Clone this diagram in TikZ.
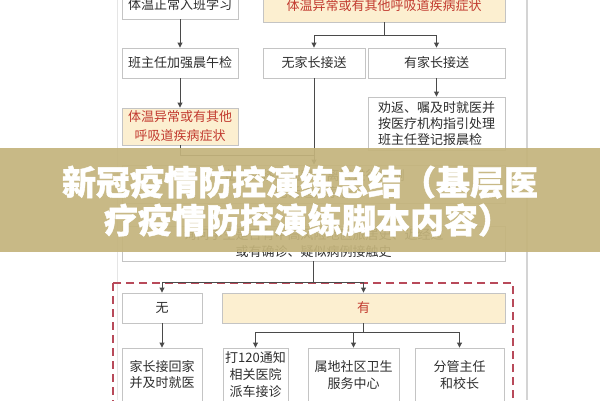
\documentclass[tikz,border=0pt]{standalone}
\usepackage{fontspec}
\setmainfont{Noto Sans CJK SC}
\newfontfamily\titlefont[BoldFeatures={FakeBold=1.2}]{Noto Sans CJK SC}
\usetikzlibrary{arrows.meta}
\definecolor{boxgray}{HTML}{C4C4C4}
\definecolor{lineg}{HTML}{4A4A4A}
\definecolor{txt}{HTML}{2E2E2E}
\definecolor{rtxt}{HTML}{C23B30}
\definecolor{yfill}{HTML}{FCEFD0}
\definecolor{dashred}{HTML}{B84A5A}
\definecolor{bannerc}{HTML}{C4B47C}
\definecolor{pageline}{HTML}{D4D4D4}
\tikzset{
  box/.style={draw=boxgray, fill=white, line width=0.9pt, text=txt, inner sep=0pt,
    font=\fontsize{13}{17}\selectfont, align=center},
  ybox/.style={box, fill=yfill, text=rtxt},
  conn/.style={draw=lineg, line width=0.9pt},
  arr/.style={conn, -{Triangle[length=5pt,width=5pt]}},
}
\begin{document}
\begin{tikzpicture}[x=1pt,y=-1pt]
\useasboundingbox (0,0) rectangle (600,400);
\clip (0,0) rectangle (600,400);
\fill[white] (0,0) rectangle (600,400);
\draw[pageline!60, line width=0.8pt] (117,0) -- (117,400);
\draw[pageline, line width=1.2pt] (527,0) -- (527,400);

% top part
\node[box, minimum width=116pt, minimum height=29pt] (A) at (180,4.5) {体温正常入班学习};
\node[ybox, minimum width=242pt, minimum height=32pt] (B) at (384,6) {体温异常或有其他呼吸道疾病症状};
\node[box, minimum width=116pt, minimum height=30pt] (C) at (180,63) {班主任加强晨午检};
\node[ybox, minimum width=116pt, minimum height=37pt, font=\fontsize{13}{19}\selectfont] (D) at (180,126.5) {体温异常或有其他\\呼吸道疾病症状};
\node[box, minimum width=102pt, minimum height=30pt] (E) at (314,63) {无家长接送};
\node[box, minimum width=137pt, minimum height=53pt, align=left, font=\fontsize{13}{16}\selectfont] (G) at (436.5,123.5) {劝返、嘱及时就医并\\按医疗机构指引处理\\班主任登记报晨检};
\node[box, minimum width=137pt, minimum height=30pt] (F) at (436.5,63) {有家长接送};
\node[box, minimum width=383pt, minimum height=38pt] (H) at (313.5,184) {立即转移至临时隔离区进行复测\\电话通知家长};
\node[box, minimum width=383pt, minimum height=35pt] (I) at (313.5,243.5) {询问学生是否有中高风险地区旅居史、近经过\\或有确诊、疑似病例接触史};

\draw[arr] (A) -- (C);
\draw[arr] (C) -- (D);
\draw[arr] (B.south) -- ++(0,13) -| (E.north);
\draw[arr] (B.south) -- ++(0,13) -| (F.north);
\draw[arr] (F) -- (F |- G.north);
\coordinate (j1) at (313.5,155);
\draw[conn] (D.south) |- (j1);
\draw[arr] (E) -- (E |- H.north);
\draw[arr] (H) -- (I);

% lower part
\draw[dashred, line width=1.3pt, dash pattern=on 8pt off 5pt] (113,283) rectangle (513,420);
\node[box, minimum width=80pt, minimum height=30pt] (N) at (162,308) {无};
\node[ybox, minimum width=283pt, minimum height=30pt] (Y) at (363.5,308) {有};
\node[box, minimum width=80pt, minimum height=54pt, font=\fontsize{13}{16}\selectfont] (K) at (162,375) {家长接回家\\并及时就医};
\node[box, minimum width=65pt, minimum height=54pt, font=\fontsize{13}{17}\selectfont] (P1) at (255.5,375) {打120通知\\相关医院\\派车接诊};
\node[box, minimum width=91pt, minimum height=54pt, font=\fontsize{13}{17}\selectfont] (P2) at (353.5,375) {属地社区卫生\\服务中心};
\node[box, minimum width=89pt, minimum height=54pt, font=\fontsize{13}{17}\selectfont] (P3) at (459.5,375) {分管主任\\和校长};

\draw[arr] (I.south) -- ++(0,21) -| (N.north);
\draw[arr] (I.south) -- ++(0,21) -| (Y.north);
\draw[arr] (N) -- (K);
\draw[arr] (Y.south) -- ++(0,9) -| (P1.north);
\draw[arr] (Y.south) -- ++(0,9) -| (P2.north);
\draw[arr] (Y.south) -- ++(0,9) -| (P3.north);

% banner
\fill[bannerc, opacity=0.92] (0,148) rectangle (600,252);
\node[text=white, font=\titlefont\bfseries\fontsize{34}{38}\selectfont, align=center, inner sep=0pt] (T) at (300,201) {新冠疫情防控演练总结（基层医\\\hspace*{16pt}疗疫情防控演练脚本内容）};
\end{tikzpicture}
\end{document}
